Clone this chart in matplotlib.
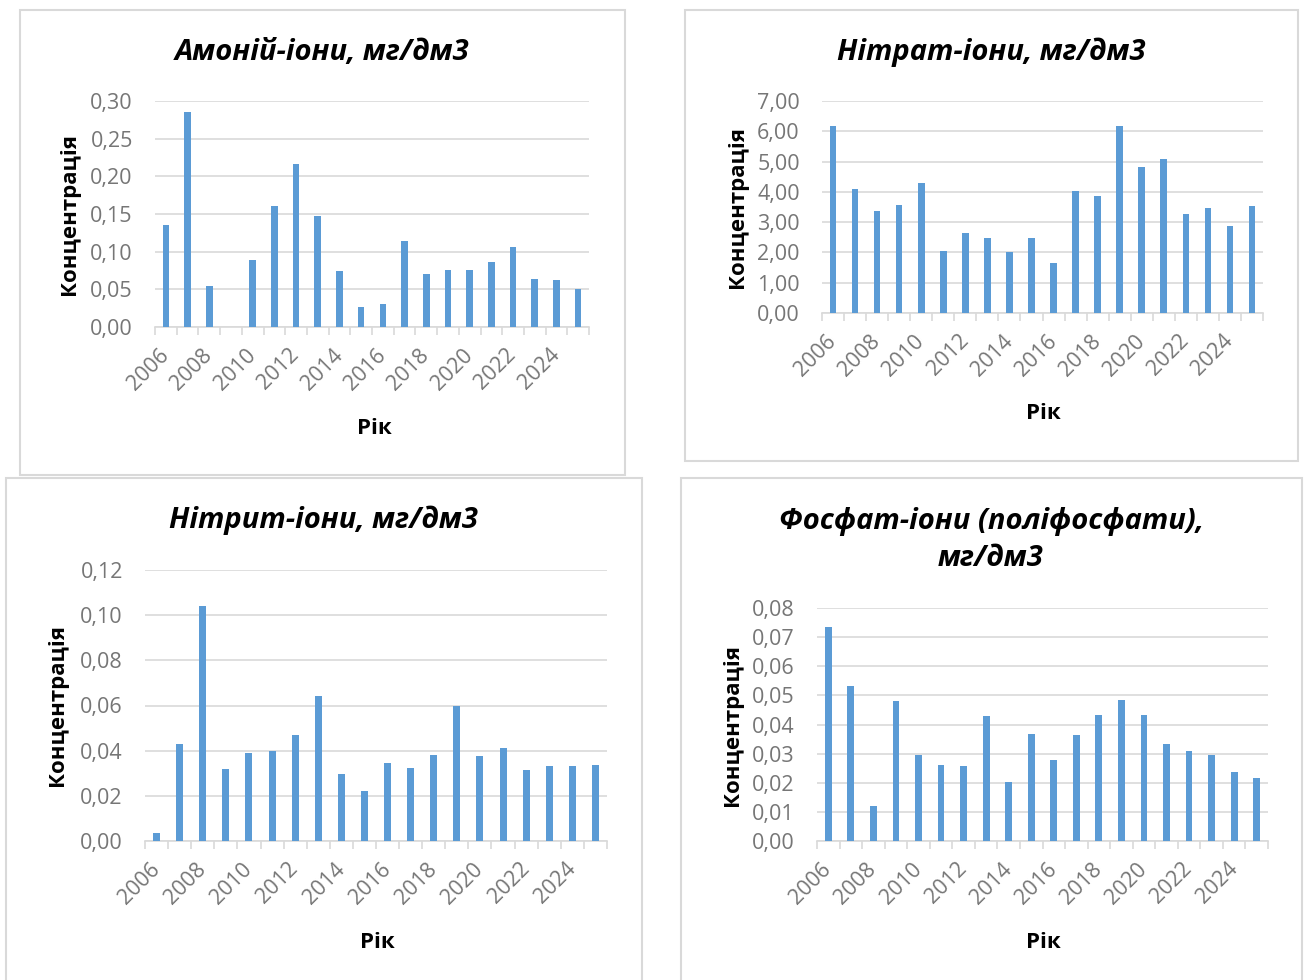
import matplotlib
matplotlib.use("Agg")
import matplotlib.pyplot as plt
from matplotlib.patches import Rectangle
from matplotlib.ticker import FuncFormatter, FixedLocator

plt.rcParams['font.family'] = ['Open Sans', 'DejaVu Sans']

# ---- data ----
years = list(range(2006, 2026))

ammonium = [0.136, 0.285, 0.054, 0.0, 0.089, 0.160, 0.216, 0.148, 0.074, 0.027,
            0.030, 0.114, 0.070, 0.076, 0.076, 0.086, 0.106, 0.064, 0.062, 0.051]
nitrate = [6.17, 4.08, 3.37, 3.57, 4.30, 2.04, 2.65, 2.49, 2.03, 2.49,
           1.66, 4.03, 3.86, 6.16, 4.83, 5.09, 3.28, 3.48, 2.86, 3.54]
nitrite = [0.0037, 0.043, 0.104, 0.0317, 0.039, 0.0397, 0.047, 0.0643, 0.0295, 0.0222,
           0.0347, 0.0324, 0.0382, 0.060, 0.0378, 0.0413, 0.0316, 0.0332, 0.0333, 0.0335]
phosphate = [0.0734, 0.0533, 0.0121, 0.0479, 0.0294, 0.0261, 0.0257, 0.0428, 0.0203, 0.0368,
             0.0277, 0.0364, 0.0432, 0.0485, 0.0434, 0.0334, 0.0308, 0.0294, 0.0237, 0.0215]

titles = ["Амоній-іони, мг/дм3", "Нітрат-іони, мг/дм3", "Нітрит-іони, мг/дм3",
          "Фосфат-іони (поліфосфати),\nмг/дм3"]
y_maxes = [0.30, 7.0, 0.12, 0.08]
y_steps = [0.05, 1.0, 0.02, 0.01]

W, H = 1307, 980
BAR = "#5B9BD5"
GRID = "#D9D9D9"
TICK = "#767676"


def fx(x):
    return x / W


def fy(y):
    return 1 - y / H


fig = plt.figure(figsize=(W / 100, H / 100), dpi=100)

# chart frames (Excel style boxes)
boxes = [(20, 10, 625, 475), (685, 10, 1298, 461), (6, 478, 642, 990), (681, 478, 1302, 990)]
for l, t, r, b in boxes:
    fig.patches.append(Rectangle((fx(l), fy(b)), fx(r - l), (b - t) / H, transform=fig.transFigure,
                                 fill=False, edgecolor=GRID, linewidth=1.5))

# plot areas in pixels: left, top, right, bottom
areas = [(155, 101, 589, 327), (822, 101, 1263, 313), (145, 570, 607, 841), (817, 608, 1268, 841)]
title_pos = [(322, 52), (991, 52), (323, 520), (991, 540)]
ylab_pos = [(70, 214), (737, 207), (57, 705), (733, 725)]
xlab_pos = [(374, 428), (1043, 413), (377, 942), (1043, 942)]

series = [ammonium, nitrate, nitrite, phosphate]

for i, vals in enumerate(series):
    l, t, r, b = areas[i]
    ax = fig.add_axes([fx(l), fy(b), (r - l) / W, (b - t) / H])
    x = list(range(len(years)))
    ax.bar(x, vals, width=0.3, color=BAR, zorder=3)
    ax.set_xlim(-0.5, len(years) - 0.5)
    ax.set_ylim(0, y_maxes[i])

    n = int(round(y_maxes[i] / y_steps[i]))
    ax.set_yticks([k * y_steps[i] for k in range(n + 1)])
    ax.yaxis.set_major_formatter(FuncFormatter(lambda v, p: f"{v:.2f}".replace(".", ",")))
    ax.grid(axis="y", color=GRID, linewidth=1.2, zorder=0)
    ax.tick_params(axis="y", length=0, labelsize=15.5, labelcolor=TICK, pad=16)

    ax.set_xticks(x[::2])
    ax.set_xticklabels([str(y) for y in years[::2]], rotation=45, ha="right", va="center",
                       rotation_mode="anchor")
    ax.xaxis.set_minor_locator(FixedLocator([k - 0.5 for k in range(len(years) + 1)]))
    ax.tick_params(axis="x", which="major", length=0, labelsize=15.5, labelcolor=TICK, pad=18)
    ax.tick_params(axis="x", which="minor", length=6, color=GRID, width=1.2)

    for s in ["top", "right", "left"]:
        ax.spines[s].set_visible(False)
    ax.spines["bottom"].set_color(GRID)
    ax.spines["bottom"].set_linewidth(1.2)

    tx, ty = title_pos[i]
    fig.text(fx(tx), fy(ty), titles[i], ha="center", va="center", fontsize=21,
             fontweight="bold", fontstyle="italic", linespacing=1.35)
    yx, yy = ylab_pos[i]
    fig.text(fx(yx), fy(yy), "Концентрація", ha="center", va="center", rotation=90,
             fontsize=16, fontweight="bold")
    xx, xy = xlab_pos[i]
    fig.text(fx(xx), fy(xy), "Рік", ha="center", va="center", fontsize=16, fontweight="bold")

fig.savefig("out.png", dpi=100, facecolor="white")
